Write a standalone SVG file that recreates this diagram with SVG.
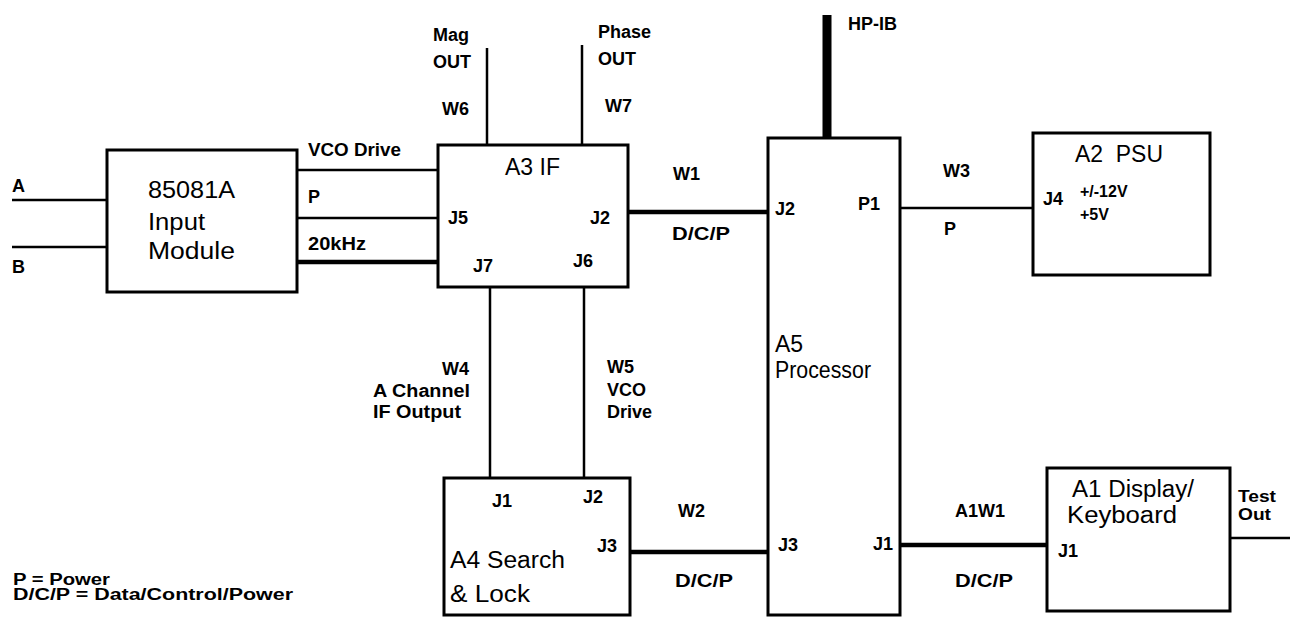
<svg xmlns="http://www.w3.org/2000/svg" width="1295" height="620" viewBox="0 0 1295 620">
<style>
text{font-family:"Liberation Sans",Arial,Helvetica,sans-serif;fill:#000}
.l{font-size:18px;font-weight:bold}
.t{font-size:23px}
.s{font-size:16px;font-weight:bold}
.box{fill:#fff;stroke:#000;stroke-width:3}
.w{stroke:#000;stroke-width:2.5;fill:none}
.k{stroke:#000;stroke-width:4.5;fill:none}
</style>
<rect width="1295" height="620" fill="#fff"/>
<g id="connectors">
<line class="w" x1="12" y1="200" x2="107" y2="200"/>
<line class="w" x1="12" y1="247" x2="107" y2="247"/>
<line class="w" x1="297" y1="170" x2="438" y2="170"/>
<line class="w" x1="297" y1="218" x2="438" y2="218"/>
<line class="k" x1="297" y1="262" x2="438" y2="262"/>
<line class="w" x1="487" y1="48" x2="487" y2="145"/>
<line class="w" x1="582" y1="45" x2="582" y2="145"/>
<line class="k" x1="628" y1="212" x2="768" y2="212"/>
<line stroke="#000" stroke-width="9" x1="827" y1="15" x2="827" y2="138"/>
<line class="w" x1="900" y1="208" x2="1033" y2="208"/>
<line class="w" x1="490" y1="287" x2="490" y2="478"/>
<line class="w" x1="584" y1="287" x2="584" y2="478"/>
<line class="k" x1="630" y1="552" x2="768" y2="552"/>
<line class="k" x1="900" y1="545" x2="1047" y2="545"/>
<line class="w" x1="1230" y1="538" x2="1290" y2="538"/>
<text class="l" x="12" y="192">A</text>
<text class="l" x="12" y="273">B</text>
<text class="l" x="308" y="156" textLength="93" lengthAdjust="spacingAndGlyphs">VCO Drive</text>
<text class="l" x="308" y="203">P</text>
<text class="l" x="308" y="250" textLength="58" lengthAdjust="spacingAndGlyphs">20kHz</text>
<text class="l" x="433" y="41">Mag</text>
<text class="l" x="433" y="68">OUT</text>
<text class="l" x="598" y="38">Phase</text>
<text class="l" x="598" y="65">OUT</text>
<text class="l" x="442" y="115">W6</text>
<text class="l" x="605" y="112">W7</text>
<text class="l" x="673" y="180">W1</text>
<text class="l" x="672" y="240" font-size="20" textLength="58" lengthAdjust="spacingAndGlyphs">D/C/P</text>
<text class="l" x="848" y="30">HP-IB</text>
<text class="l" x="943" y="177">W3</text>
<text class="l" x="944" y="235">P</text>
<text class="l" x="442" y="375">W4</text>
<text class="l" x="373" y="397" textLength="97" lengthAdjust="spacingAndGlyphs">A Channel</text>
<text class="l" x="373" y="418" textLength="88" lengthAdjust="spacingAndGlyphs">IF Output</text>
<text class="l" x="607" y="373">W5</text>
<text class="l" x="607" y="396">VCO</text>
<text class="l" x="607" y="418">Drive</text>
<text class="l" x="678" y="517">W2</text>
<text class="l" x="675" y="587" font-size="20" textLength="58" lengthAdjust="spacingAndGlyphs">D/C/P</text>
<text class="l" x="955" y="517">A1W1</text>
<text class="l" x="955" y="587" font-size="20" textLength="58" lengthAdjust="spacingAndGlyphs">D/C/P</text>
<text class="s" x="1238" y="502" textLength="38" lengthAdjust="spacingAndGlyphs">Test</text>
<text class="s" x="1238" y="520" textLength="33" lengthAdjust="spacingAndGlyphs">Out</text>
</g>
<g id="n85081A">
<rect class="box" x="107" y="150" width="190" height="142"/>
<text class="t" x="148" y="198" textLength="87" lengthAdjust="spacingAndGlyphs">85081A</text>
<text class="t" x="148" y="230" textLength="57" lengthAdjust="spacingAndGlyphs">Input</text>
<text class="t" x="148" y="259" textLength="87" lengthAdjust="spacingAndGlyphs">Module</text>
</g>
<g id="A3">
<rect class="box" x="438" y="145" width="190" height="142"/>
<text class="t" x="505" y="175" font-size="24">A3 IF</text>
<text class="l" x="448" y="224">J5</text>
<text class="l" x="590" y="224">J2</text>
<text class="l" x="473" y="272">J7</text>
<text class="l" x="573" y="267">J6</text>
</g>
<g id="A5">
<rect class="box" x="768" y="138" width="132" height="477"/>
<text class="t" x="775" y="352" font-size="22">A5</text>
<text class="t" x="775" y="378" font-size="22" textLength="96" lengthAdjust="spacingAndGlyphs">Processor</text>
<text class="l" x="775" y="215">J2</text>
<text class="l" x="858" y="210">P1</text>
<text class="l" x="778" y="551">J3</text>
<text class="l" x="873" y="550">J1</text>
</g>
<g id="A2">
<rect class="box" x="1033" y="133" width="177" height="142"/>
<text class="t" x="1075" y="162" textLength="88" lengthAdjust="spacingAndGlyphs" xml:space="preserve">A2  PSU</text>
<text class="l" x="1043" y="205">J4</text>
<text class="s" x="1080" y="197">+/-12V</text>
<text class="s" x="1080" y="220">+5V</text>
</g>
<g id="A4">
<rect class="box" x="444" y="478" width="186" height="137"/>
<text class="l" x="492" y="507">J1</text>
<text class="l" x="583" y="503">J2</text>
<text class="l" x="597" y="552">J3</text>
<text class="t" x="450" y="568" textLength="115" lengthAdjust="spacingAndGlyphs">A4 Search</text>
<text class="t" x="450" y="602" textLength="80" lengthAdjust="spacingAndGlyphs">&amp; Lock</text>
</g>
<g id="A1">
<rect class="box" x="1047" y="468" width="183" height="143"/>
<text class="t" x="1072" y="497" textLength="122" lengthAdjust="spacingAndGlyphs">A1 Display/</text>
<text class="t" x="1067" y="523" textLength="110" lengthAdjust="spacingAndGlyphs">Keyboard</text>
<text class="l" x="1058" y="557">J1</text>
</g>
<g id="legend">
<text class="s" x="13" y="585" font-size="14" textLength="97" lengthAdjust="spacingAndGlyphs">P = Power</text>
<text class="s" x="13" y="600" font-size="14" textLength="280" lengthAdjust="spacingAndGlyphs">D/C/P = Data/Control/Power</text>
</g>
</svg>
